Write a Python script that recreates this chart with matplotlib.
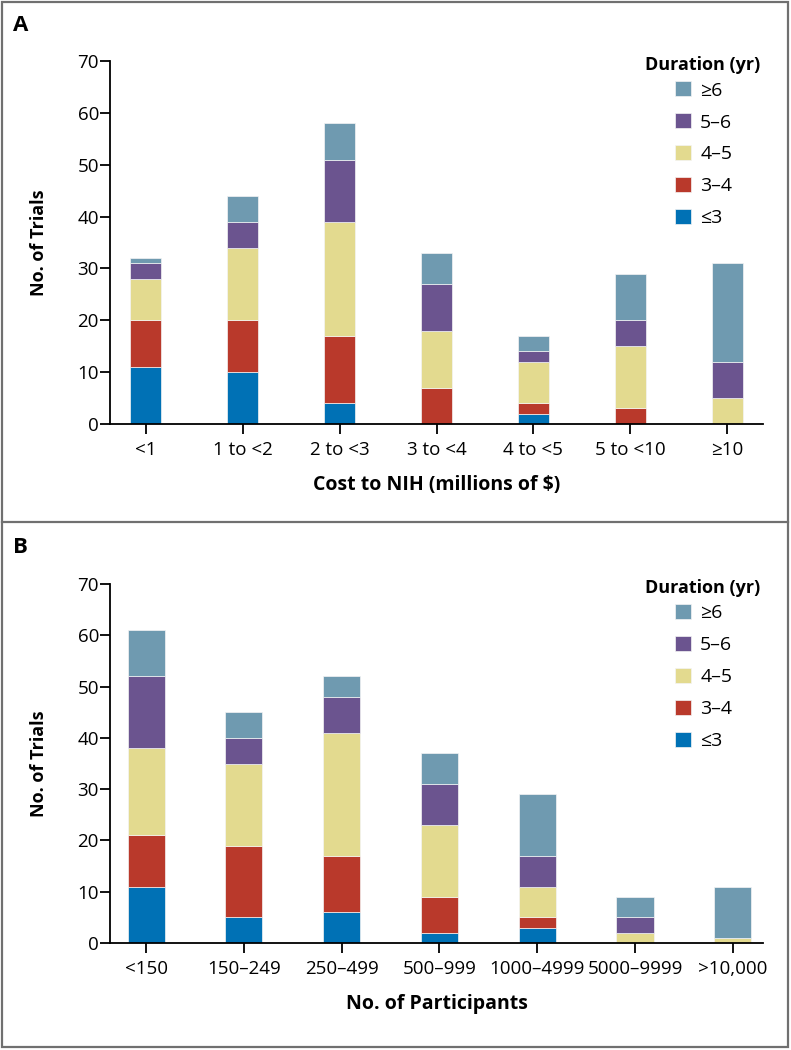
import matplotlib
matplotlib.use('Agg')
import matplotlib.pyplot as plt
from matplotlib.patches import Patch, Rectangle
from matplotlib.lines import Line2D
import numpy as np

plt.rcParams['font.family'] = ['Open Sans', 'DejaVu Sans']

# --- data (counts per duration group) ---
durations = ["\u22643", "3\u20134", "4\u20135", "5\u20136", "\u22656"]
colors = ["#0071b5", "#b9392b", "#e3da8f", "#6b548f", "#6f9ab0"]

cost_bins = ["<1", "1 to <2", "2 to <3", "3 to <4", "4 to <5", "5 to <10", "\u226510"]
cost_le3 = [11, 10, 4, 0, 2, 0, 0]
cost_3_4 = [9, 10, 13, 7, 2, 3, 0]
cost_4_5 = [8, 14, 22, 11, 8, 12, 5]
cost_5_6 = [3, 5, 12, 9, 2, 5, 7]
cost_ge6 = [1, 5, 7, 6, 3, 9, 19]

part_bins = ["<150", "150\u2013249", "250\u2013499", "500\u2013999",
             "1000\u20134999", "5000\u20139999", ">10,000"]
part_le3 = [11, 5, 6, 2, 3, 0, 0]
part_3_4 = [10, 14, 11, 7, 2, 0, 0]
part_4_5 = [17, 16, 24, 14, 6, 2, 1]
part_5_6 = [14, 5, 7, 8, 6, 3, 0]
part_ge6 = [9, 5, 4, 6, 12, 4, 10]

W, H = 791, 1050
fig = plt.figure(figsize=(W / 100, H / 100), dpi=100)


def px_axes(left, right, top, bottom):
    return fig.add_axes([left / W, 1 - bottom / H, (right - left) / W, (bottom - top) / H])


def draw_panel(ax, cats, series, bar_w, xlabel, xmax_pad, title_y):
    x = np.arange(len(cats))
    bottom = np.zeros(len(cats))
    for vals, col in zip(series, colors):
        vals = np.array(vals, dtype=float)
        ax.bar(x, vals, bar_w, bottom=bottom, color=col,
               edgecolor='#f4f4f4', linewidth=0.5)
        bottom += vals
    ax.set_xlim(-0.37, len(cats) - 1 + xmax_pad)
    ax.set_ylim(0, 70)
    ax.set_yticks(range(0, 71, 10))
    ax.set_xticks(x)
    ax.set_xticklabels(cats)
    for s in ('top', 'right'):
        ax.spines[s].set_visible(False)
    for s in ('left', 'bottom'):
        ax.spines[s].set_linewidth(1.3)
    ax.tick_params(axis='both', labelsize=13.5, width=1.3, length=7, color='black')
    ax.tick_params(axis='x', pad=5)
    ax.tick_params(axis='y', pad=1)
    ax.set_ylabel("No. of Trials", fontsize=13, fontweight='bold', labelpad=21)
    ax.set_xlabel(xlabel, fontsize=14, fontweight='bold', labelpad=12)

    # legend (title drawn separately so it sits closer to the entries)
    handles = [Patch(facecolor=c, edgecolor='#f4f4f4', linewidth=0.5)
               for c in colors][::-1]
    ax.legend(handles, durations[::-1],
              loc='upper left', bbox_to_anchor=(0.866, title_y - 0.045),
              frameon=False, fontsize=14, handlelength=0.82,
              handleheight=0.82, labelspacing=0.70, handletextpad=0.45,
              borderaxespad=0, borderpad=0)
    ax.text(0.908, title_y, "Duration (yr)", transform=ax.transAxes,
            ha='center', va='center', fontsize=13, fontweight='bold')


axA = px_axes(110, 763, 61, 424)
draw_panel(axA, cost_bins, [cost_le3, cost_3_4, cost_4_5, cost_5_6, cost_ge6],
           0.32, "Cost to NIH (millions of $)", 0.37, (424 - 65) / (424 - 61))

axB = px_axes(110, 763, 584, 943)
draw_panel(axB, part_bins, [part_le3, part_3_4, part_4_5, part_5_6, part_ge6],
           0.38, "No. of Participants", 0.31, (943 - 588) / (943 - 584))

# panel letters
fig.text(13 / W, 1 - 15 / H, "A", fontsize=16, fontweight='bold', va='top', ha='left')
fig.text(13 / W, 1 - 537 / H, "B", fontsize=16, fontweight='bold', va='top', ha='left')

# frame around the panels
frame_col = '#707070'
fig.patches.append(Rectangle((1.5 / W, 1 - 1047 / H), (788 - 1.5) / W, (1047 - 1.5) / H,
                             transform=fig.transFigure, fill=False,
                             edgecolor=frame_col, linewidth=1.6))
fig.lines.append(Line2D([1.5 / W, 788 / W], [1 - 522 / H, 1 - 522 / H],
                        transform=fig.transFigure, color=frame_col, linewidth=1.6))

fig.savefig("out.png", dpi=100)
